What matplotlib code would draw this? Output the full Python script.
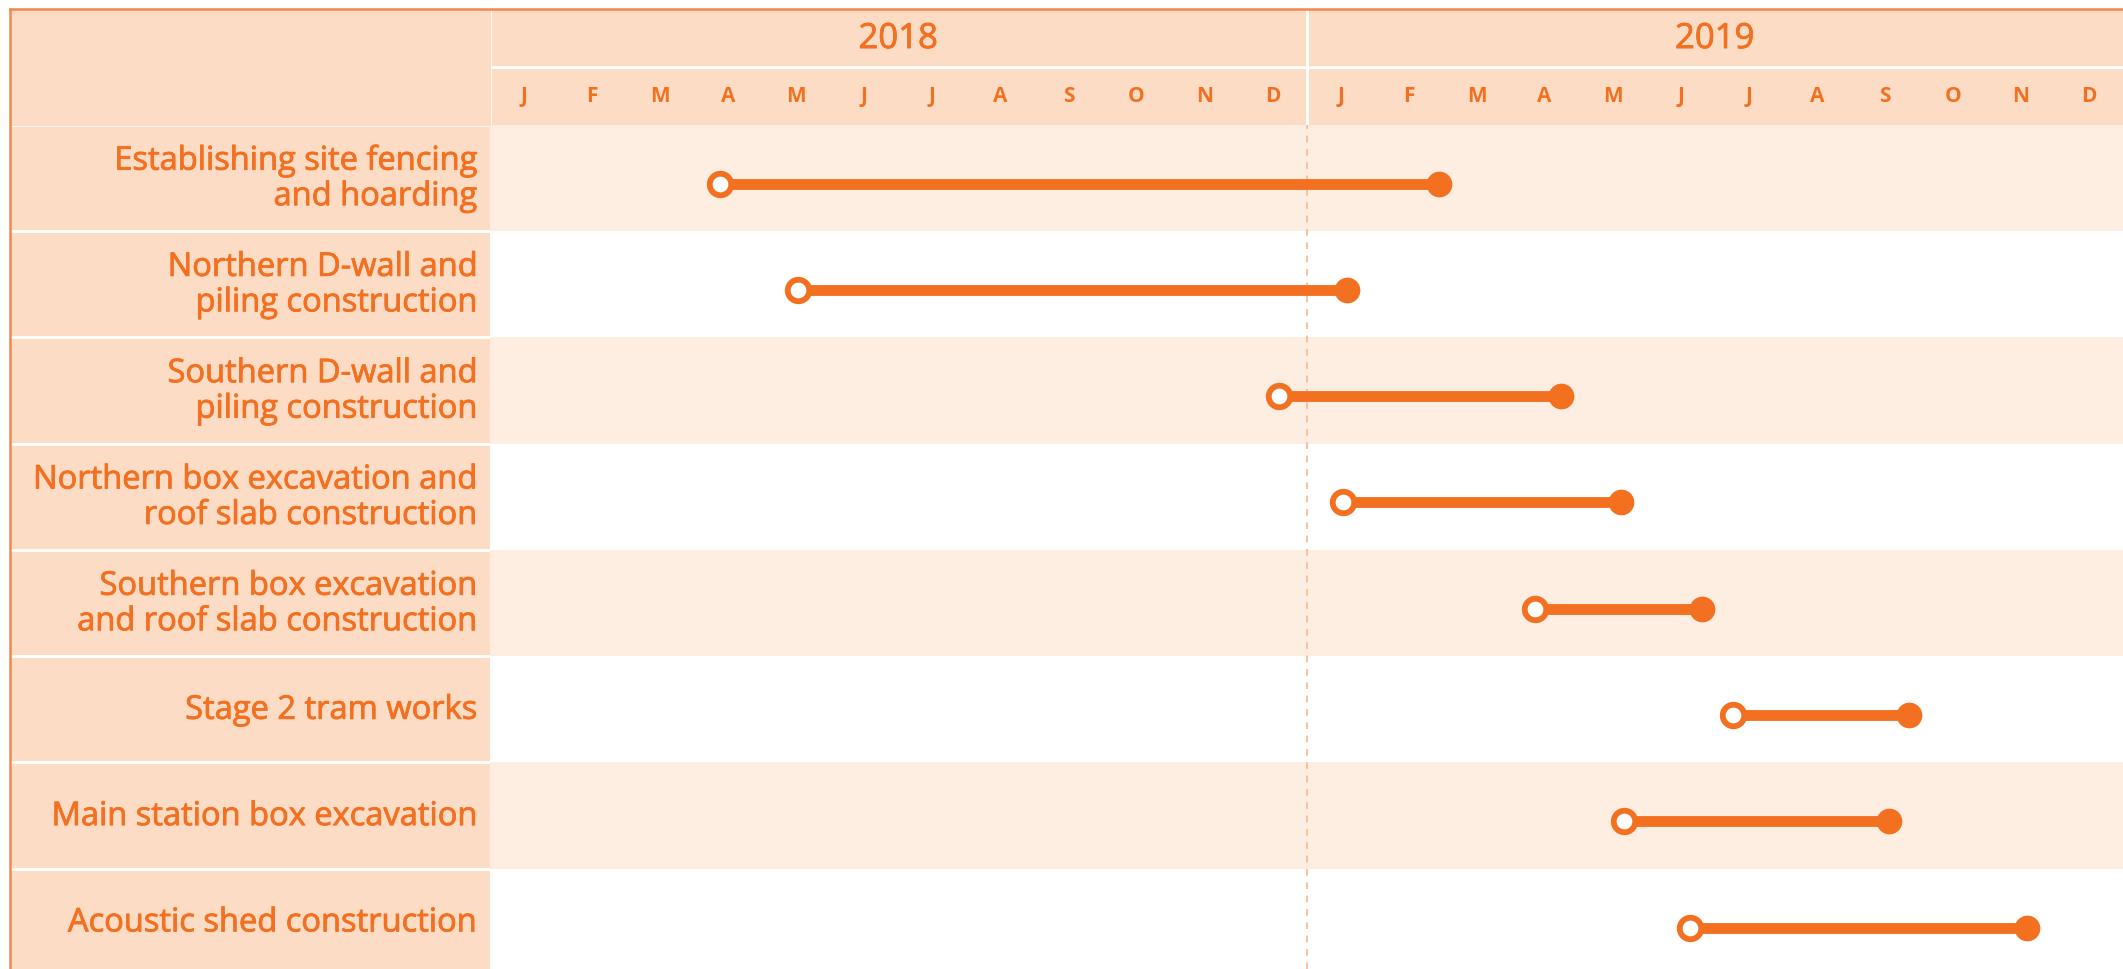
import matplotlib.pyplot as plt
import matplotlib.patheffects as pe
from matplotlib.lines import Line2D
from matplotlib.patches import Rectangle

# data: task start / finish in months counted from 1 Jan 2018
tasks = ["Establishing site fencing\nand hoarding",
         "Northern D-wall and\npiling construction",
         "Southern D-wall and\npiling construction",
         "Northern box excavation and\nroof slab construction",
         "Southern box excavation\nand roof slab construction",
         "Stage 2 tram works",
         "Main station box excavation",
         "Acoustic shed construction"]
starts = [3.38, 4.52, 11.6, 12.54, 15.36, 18.27, 16.66, 17.63]
ends = [13.95, 12.6, 15.74, 16.62, 17.81, 20.86, 20.56, 22.59]
years = ["2018", "2019"]
month_letters = ["J", "F", "M", "A", "M", "J", "J", "A", "S", "O", "N", "D"]

orange = "#F37021"
peach = "#FDDCC5"
light = "#FEEDE1"
W, H = 2123, 969

plt.rcParams['font.family'] = ['Open Sans', 'DejaVu Sans']
fig = plt.figure(figsize=(W / 100, H / 100), dpi=100)
heavy = [pe.withStroke(linewidth=0.6, foreground=orange)]


def box(x0, y0, x1, y1):
    # pixel box (top-left origin) -> figure fraction rect
    return [x0 / W, 1 - y1 / H, (x1 - x0) / W, (y1 - y0) / H]


top, left, col, head_mid, head_bot = 9, 10, 490, 62, 124.6
row_h = 106.3
n = len(tasks)
ybottom = -0.5 + (H - head_bot) / row_h
shift = 0.055  # bars sit a little below the row middle

# label column header cell
fig.patches.append(Rectangle((left / W, 1 - head_bot / H), (col - left) / W,
                             (head_bot - top) / H, transform=fig.transFigure,
                             color=peach, zorder=0))

# label column
ax_lab = fig.add_axes(box(left, head_bot, col, H))
ax_lab.set_xlim(0, 1)
ax_lab.set_ylim(ybottom, -0.5)
ax_lab.add_patch(Rectangle((0, -0.5), 1, ybottom + 0.5, color=peach, zorder=-1))
for i, t in enumerate(tasks):
    ax_lab.text(0.973, i + 0.01, t, ha="right", va="center", color=orange,
                fontsize=23.5, linespacing=1.1, path_effects=heavy)
for i in range(n + 1):
    ax_lab.axhline(i - 0.5, color="white", lw=2)
ax_lab.axis("off")

# header with years and months
n_months = 12 * len(years)
ax_head = fig.add_axes(box(col, top, W, head_bot))
ax_head.set_xlim(0, n_months)
ax_head.set_ylim(2, 0)
ax_head.set_facecolor(peach)
for k, y in enumerate(years):
    ax_head.text(12 * k + 6, 0.52, y, ha="center", va="center", color=orange,
                 fontsize=25, path_effects=heavy)
for m in range(n_months):
    ax_head.text(m + 0.5, 1.52, month_letters[m % 12], ha="center", va="center",
                 color=orange, fontsize=15, fontweight="bold")
ax_head.axhline(1, color="white", lw=2)
ax_head.axvline(0, color="white", lw=3)
ax_head.axvline(12, color="white", lw=2)
ax_head.set_xticks([])
ax_head.set_yticks([])
for s in ax_head.spines.values():
    s.set_visible(False)

# timeline rows
ax = fig.add_axes(box(col, head_bot, W, H))
ax.set_xlim(0, n_months)
ax.set_ylim(ybottom, -0.5)
for i in range(n):
    if i % 2 == 0:
        ax.axhspan(i - 0.5, i + 0.5, color=light, lw=0, zorder=0)
ax.axvline(12, color="#F8B790", lw=1.2, ls=(0, (4, 4)), zorder=1)
for i in range(n):
    y = i + shift
    ax.plot([starts[i], ends[i]], [y, y], color=orange, lw=7.8,
            solid_capstyle="butt", zorder=2)
    ax.plot(ends[i], y, "o", color=orange, ms=17.5, zorder=3)
    ax.plot(starts[i], y, "o", mfc="white", mec=orange, mew=4.2, ms=15.5,
            zorder=4)
ax.axis("off")

# outer border
fig.add_artist(Line2D([left / W, 1], [1 - top / H, 1 - top / H], color="#F4874B",
                      lw=1.8, transform=fig.transFigure))
fig.add_artist(Line2D([left / W, left / W], [0, 1 - top / H], color="#F4874B",
                      lw=1.8, transform=fig.transFigure))

fig.savefig("out.png", dpi=100)
